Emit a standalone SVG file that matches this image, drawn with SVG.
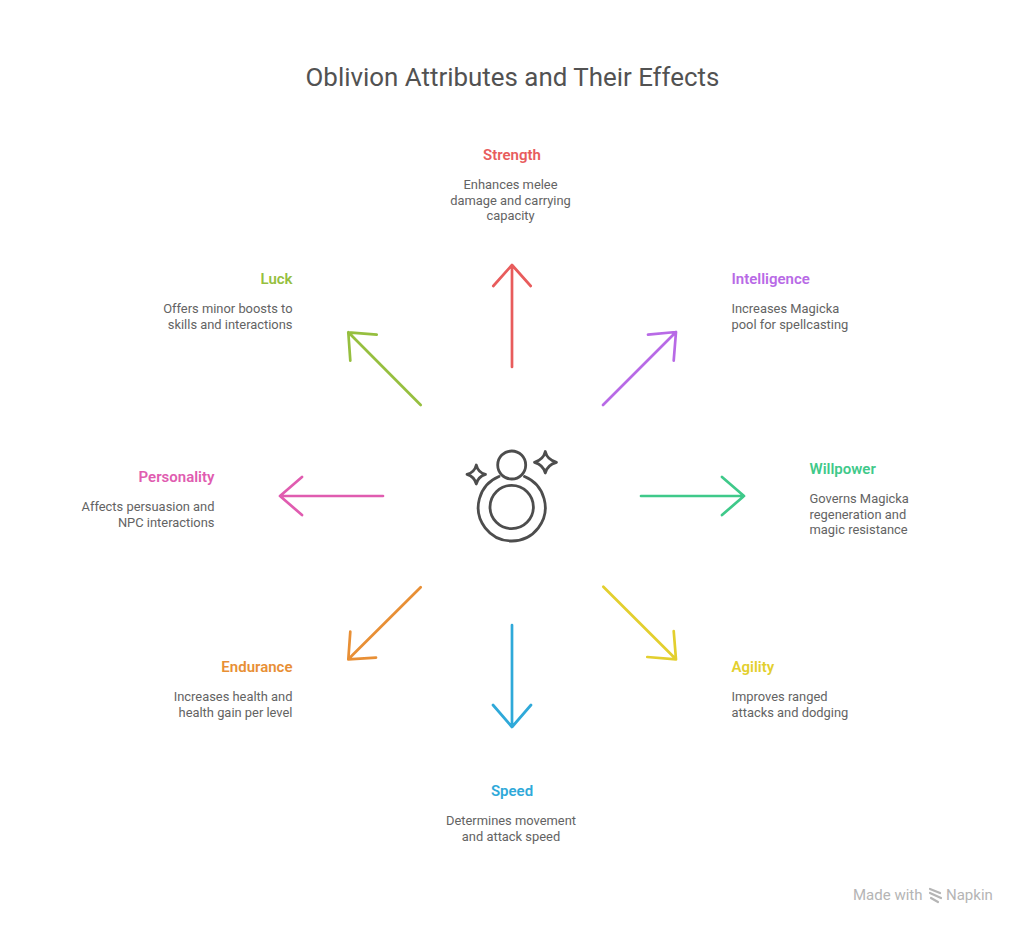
<svg xmlns="http://www.w3.org/2000/svg" width="1024" height="931" viewBox="0 0 1024 931">
<style>
text{font-family:Roboto,"Liberation Sans",sans-serif}
.t{font-size:25.900px;fill:#525252;text-anchor:middle}
.h{font-size:15px;font-weight:600}
.d{font-size:12.900px;fill:#636363}
.m{text-anchor:middle}.e{text-anchor:end}.s{text-anchor:start}
.a{fill:none;stroke-width:2.700;stroke-linecap:round;stroke-linejoin:round}
.i{fill:none;stroke:#4d4d4d;stroke-width:2.800;stroke-linejoin:round;stroke-linecap:round}
.w{font-size:15px;fill:#b5b5b5}
</style>
<rect width="1024" height="931" fill="#fff"/>
<text class="t" x="512.500" y="86">Oblivion Attributes and Their Effects</text>
<g id="connectors">
<path class="a" stroke="#e85c5c" d="M512 367V265M493.300 286L512 265L530.700 286"/>
<path class="a" stroke="#b86ae6" d="M603 405L676 332M648 334.700L676 332L673.700 360.700"/>
<path class="a" stroke="#3fc98a" d="M641 496H744M722 477L744 496L722 515"/>
<path class="a" stroke="#e3cf2e" d="M603.300 586.700L676 659.300M647.300 657L676 659.300L673.700 631"/>
<path class="a" stroke="#2fa9d9" d="M512 625V727M493 705L512 727L531 705"/>
<path class="a" stroke="#e88f35" d="M420.700 587.300L348.300 659.300M376 657.700L348.300 659.300L350.300 631.700"/>
<path class="a" stroke="#e05cb0" d="M383 496H280M302 477L280 496L302 515"/>
<path class="a" stroke="#96bf3f" d="M420.700 405L348.300 332.300M376.700 334.700L348.300 332.300L350.300 360.700"/>
</g>
<g id="center-icon">
<circle class="i" cx="511.700" cy="465" r="14"/>
<path class="i" d="M499 476.500A33.500 33.500 0 1 0 524.500 476.500"/>
<circle class="i" cx="511.700" cy="507" r="21.700"/>
<path class="i" d="M545.300 451.500Q547 459.500 556.500 462.300Q547 465 545.300 473Q543.500 465 534.500 462.300Q543.500 459.500 545.300 451.500Z"/>
<path class="i" d="M476.300 465Q478 472.500 485.500 474.300Q478 476.500 476.300 484Q474.500 476.500 467 474.300Q474.500 472.500 476.300 465Z"/>
</g>
<g id="node-strength"><text class="h m" x="512" y="159.500" fill="#e85c5c">Strength</text><text class="d m" x="510.500" y="189">Enhances melee</text><text class="d m" x="510.500" y="204.500">damage and carrying</text><text class="d m" x="510.500" y="220">capacity</text></g>
<g id="node-intelligence"><text class="h s" x="731.500" y="283.500" fill="#b86ae6">Intelligence</text><text class="d s" x="731.500" y="313">Increases Magicka</text><text class="d s" x="731.500" y="328.500">pool for spellcasting</text></g>
<g id="node-willpower"><text class="h s" x="809.500" y="473.500" fill="#3fc98a">Willpower</text><text class="d s" x="809.500" y="503">Governs Magicka</text><text class="d s" x="809.500" y="518.500">regeneration and</text><text class="d s" x="809.500" y="534">magic resistance</text></g>
<g id="node-agility"><text class="h s" x="731.500" y="671.500" fill="#e3cf2e">Agility</text><text class="d s" x="731.500" y="701">Improves ranged</text><text class="d s" x="731.500" y="716.500">attacks and dodging</text></g>
<g id="node-speed"><text class="h m" x="512" y="795.500" fill="#2fa9d9">Speed</text><text class="d m" x="511" y="825">Determines movement</text><text class="d m" x="511" y="840.500">and attack speed</text></g>
<g id="node-endurance"><text class="h e" x="292.500" y="671.500" fill="#e88f35">Endurance</text><text class="d e" x="292.500" y="701">Increases health and</text><text class="d e" x="292.500" y="716.500">health gain per level</text></g>
<g id="node-personality"><text class="h e" x="214.500" y="481.500" fill="#e05cb0">Personality</text><text class="d e" x="214.500" y="511">Affects persuasion and</text><text class="d e" x="214.500" y="526.500">NPC interactions</text></g>
<g id="node-luck"><text class="h e" x="292.500" y="283.500" fill="#96bf3f">Luck</text><text class="d e" x="292.500" y="313">Offers minor boosts to</text><text class="d e" x="292.500" y="328.500">skills and interactions</text></g>
<g id="watermark">
<text class="w" x="853" y="900">Made with</text>
<path d="M930 889L940 893M930 893L941 898M931 898L938 902" fill="none" stroke="#b5b5b5" stroke-width="2.200" stroke-linecap="round"/>
<text class="w" x="946" y="900">Napkin</text>
</g>
</svg>
